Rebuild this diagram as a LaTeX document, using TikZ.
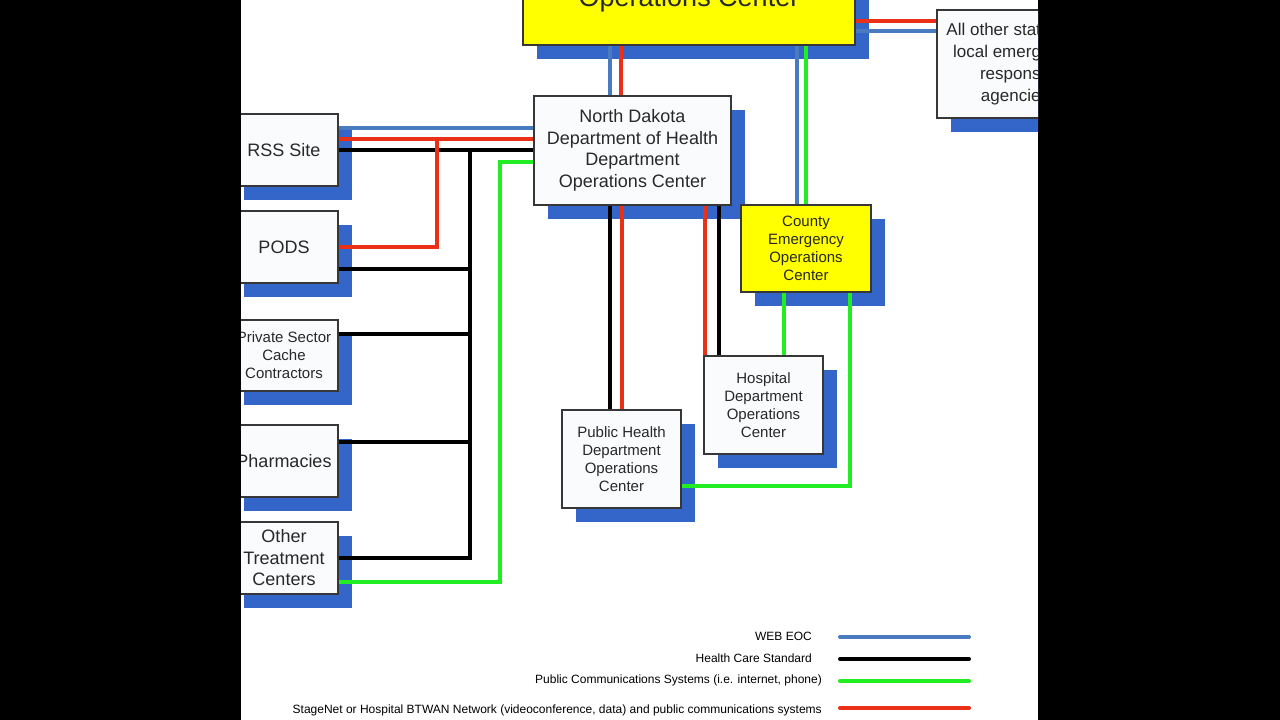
\documentclass[tikz,border=0pt]{standalone}
\usepackage{fontspec}
\setmainfont{Liberation Sans}
\usetikzlibrary{shadows}
\definecolor{schattenblau}{RGB}{52,102,202}
\definecolor{linieblau}{RGB}{74,122,192}
\definecolor{linierot}{RGB}{234,48,22}
\definecolor{liniegruen}{RGB}{34,236,34}
\definecolor{gelb}{RGB}{255,255,0}
\definecolor{kastenweiss}{RGB}{250,251,253}
\definecolor{randgrau}{RGB}{55,55,55}
\definecolor{schrift}{RGB}{40,40,40}
\tikzset{
  kasten/.style={draw=randgrau, line width=1.2pt, fill=kastenweiss, align=center, inner sep=0pt, text=schrift,
    drop shadow={shadow xshift=14pt, shadow yshift=-14pt, fill=schattenblau, opacity=1}},
  gelbkasten/.style={kasten, fill=gelb},
  grossschrift/.style={font=\fontsize{18}{21.5}\selectfont},
  kleinschrift/.style={font=\fontsize{15}{18}\selectfont},
  webeoc/.style={line width=4pt, linieblau},
  standard/.style={line width=4pt, black},
  oeffentlich/.style={line width=4pt, liniegruen},
  stagenet/.style={line width=4pt, linierot},
  legende/.style={font=\fontsize{12}{14}\selectfont, anchor=east, inner sep=0pt},
}
\begin{document}
\begin{tikzpicture}[x=1pt,y=-1pt]
\useasboundingbox (0,0) rectangle (1280,720);
\fill[black] (0,0) rectangle (1280,720);
\fill[white] (241,0) rectangle (1038,720);
\begin{scope}
\clip (241,0) rectangle (1038,720);
% Kaesten
\node[gelbkasten, minimum width=332pt, minimum height=105pt] (seoc) at (689,-7.5) {};
\node[font=\fontsize{27}{30}\selectfont, anchor=base, inner sep=0pt, text=schrift] (seoclabel) at (689,6) {Operations Center};
\node[kasten, minimum width=156pt, minimum height=108pt, font=\fontsize{17}{22}\selectfont] (adoc) at (1015,64) {All other state and\\local emergency\\response\\agencies};
\node[kasten, grossschrift, minimum width=197pt, minimum height=109pt] (ndoh) at (632.5,150.5) {North Dakota\\Department of Health\\Department\\Operations Center};
\node[kasten, grossschrift, minimum width=108pt, minimum height=72pt] (rss) at (284,150) {RSS Site};
\node[kasten, grossschrift, minimum width=108pt, minimum height=72pt] (pods) at (284,247) {PODS};
\node[kasten, kleinschrift, minimum width=108pt, minimum height=71pt] (private) at (284,355.5) {Private Sector\\Cache\\Contractors};
\node[kasten, grossschrift, minimum width=108pt, minimum height=72pt] (pharm) at (284,461) {Pharmacies};
\node[kasten, grossschrift, minimum width=108pt, minimum height=72pt] (other) at (284,558) {Other\\Treatment\\Centers};
\node[gelbkasten, kleinschrift, minimum width=130pt, minimum height=87pt] (ceoc) at (806,248.5) {County\\Emergency\\Operations\\Center};
\node[kasten, kleinschrift, minimum width=119pt, minimum height=98pt] (hdoc) at (763.5,405) {Hospital\\Department\\Operations\\Center};
\node[kasten, kleinschrift, minimum width=119pt, minimum height=98pt] (phdoc) at (621.5,459) {Public Health\\Department\\Operations\\Center};

% Verbindungen oben
\draw[webeoc] ([xshift=-22.5pt]ndoh.north) -- ([xshift=-22.5pt]ndoh.north |- seoc.south);
\draw[stagenet] ([xshift=-11.5pt]ndoh.north) -- ([xshift=-11.5pt]ndoh.north |- seoc.south);
\draw[webeoc] ([xshift=-9pt]ceoc.north) -- ([xshift=-9pt]ceoc.north |- seoc.south);
\draw[oeffentlich] (ceoc.north) -- (ceoc.north |- seoc.south);
\draw[stagenet] ([yshift=43pt]adoc.west) -- ([yshift=43pt]adoc.west -| seoc.east);
\draw[webeoc] ([yshift=33pt]adoc.west) -- ([yshift=33pt]adoc.west -| seoc.east);

% Verbindungen links
\coordinate (abzweig) at ([xshift=98pt,yshift=11pt]rss.east);
\coordinate (schiene) at ([xshift=131pt]rss.east);
\draw[webeoc] ([yshift=22pt]rss.east) -- ([yshift=22pt]rss.east -| ndoh.west);
\draw[stagenet] ([yshift=11pt]rss.east) -- ([yshift=11pt]rss.east -| ndoh.west);
\draw[standard] (rss.east) -- (rss.east -| ndoh.west);
\draw[stagenet] (abzweig) |- (pods.east);
\draw[standard] (schiene) -- ([yshift=-2pt]schiene |- other.east);
\draw[standard] ([yshift=-22pt]pods.east) -- ([yshift=-22pt]pods.east -| schiene);
\draw[standard] ([yshift=21.5pt]private.east) -- ([yshift=21.5pt]private.east -| schiene);
\draw[standard] ([yshift=19pt]pharm.east) -- ([yshift=19pt]pharm.east -| schiene);
\draw[standard] (other.east) -- (other.east -| schiene);
\draw[oeffentlich] ([yshift=-11.5pt]ndoh.west) -- ++(-33,0) |- ([yshift=-24pt]other.east);

% Verbindungen unten
\draw[standard] ([xshift=-11.5pt]phdoc.north) -- ([xshift=-11.5pt]phdoc.north |- ndoh.south);
\draw[stagenet] (phdoc.north) -- (phdoc.north |- ndoh.south);
\draw[stagenet] ([xshift=-58.5pt]hdoc.north) -- ([xshift=-58.5pt]hdoc.north |- ndoh.south);
\draw[standard] ([xshift=-44.5pt]hdoc.north) -- ([xshift=-44.5pt]hdoc.north |- ndoh.south);
\draw[oeffentlich] ([xshift=-22pt]ceoc.south) -- ([xshift=-22pt]ceoc.south |- hdoc.north);
\draw[oeffentlich] ([xshift=44pt]ceoc.south) |- ([yshift=-27pt]phdoc.east);

% Legende
\node[legende] (lwebeoc) at (812,636) {WEB EOC};
\node[legende] (lstandard) at (812,658) {Health Care Standard};
\node[legende] (loeffentlich) at (822,680) {Public Communications Systems (i.e. internet, phone)};
\node[legende] (lstagenet) at (822,710) {StageNet or Hospital BTWAN Network (videoconference, data) and public communications systems};
\draw[webeoc, line cap=round] (840,637) -- (969,637);
\draw[standard, line cap=round] (840,659) -- (969,659);
\draw[oeffentlich, line cap=round] (840,681) -- (969,681);
\draw[stagenet, line cap=round] (840,708) -- (969,708);
\end{scope}
\end{tikzpicture}
\end{document}
